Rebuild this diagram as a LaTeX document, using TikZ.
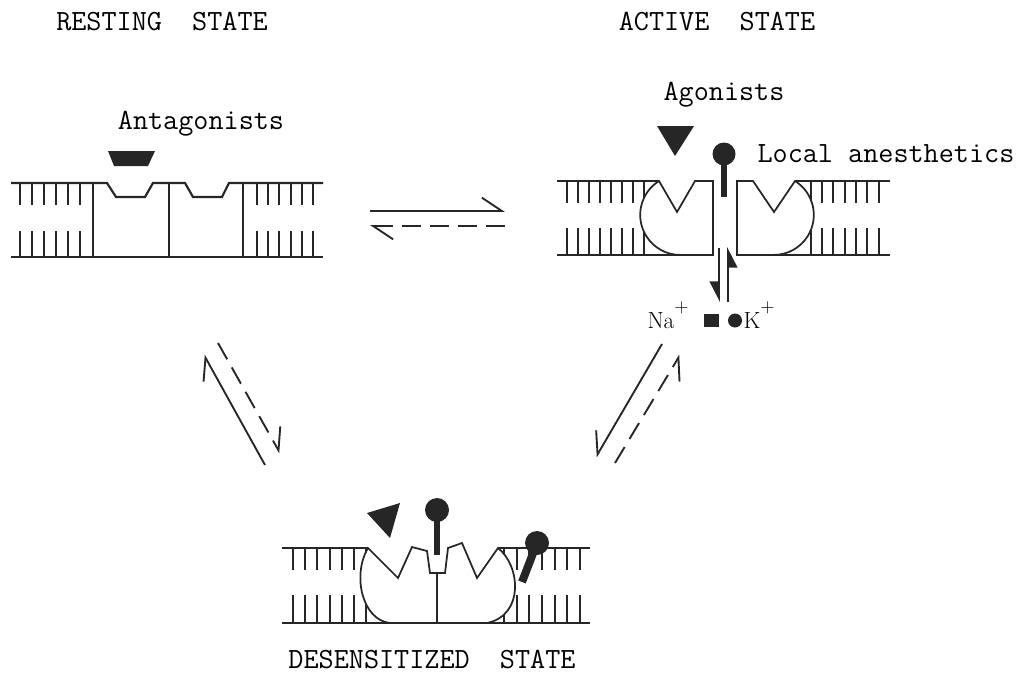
\documentclass[tikz,border=0pt]{standalone}
\usetikzlibrary{arrows.meta}

\begin{document}
\begin{tikzpicture}[x=0.75pt, y=-0.75pt, thick,
  membrane/.style={line width=1.6pt, draw=black!85},
  lipid/.style={line width=1.5pt, draw=black!85},
  subunit/.style={line width=1.3pt, draw=black!85, fill=white},
  ligand/.style={fill=black!85},
  stalk/.style={line width=5pt, draw=black!85},
  statetext/.style={font=\fontsize{22}{24}\selectfont\ttfamily, inner sep=0pt, anchor=base},
  ion/.style={font=\fontsize{17.5}{20}\selectfont\rmfamily, inner sep=0pt, anchor=base west},
  harpL/.style={line width=1.4pt, draw=black!85, -{Straight Barb[left, length=15pt, width=20pt]}},
  harpR/.style={line width=1.4pt, draw=black!85, -{Straight Barb[right, length=15pt, width=20pt]}},
  eqdash/.style={dash pattern=on 14pt off 7pt},
  flow/.style={line width=1.4pt, draw=black!85, -{Triangle[right, length=14pt, width=14pt]}}]
  \useasboundingbox (0,0) rectangle (1027,678);

  % 静息态
  \draw[membrane] (11,183) -- (107,183) -- (116,197) -- (145,197) -- (153,183) -- (185,183)
    -- (193,197) -- (222,197) -- (229,183) -- (323,183);
  \draw[membrane] (11,257) -- (323,257);
  \foreach \x in {20,32,44,56,68,80,257,268,279,291,302,313} {
    \draw[lipid] (\x,183) -- (\x,205);
    \draw[lipid] (\x,231) -- (\x,257);
  }
  \foreach \x in {93,169,243}
    \draw[membrane] (\x,183) -- (\x,257);
  \fill[ligand] (108,151) -- (155,151) -- (148,166) -- (114,166) -- cycle;

  % 激活态
  \draw[membrane] (557,181) -- (659,181) (795,181) -- (890,181);
  \draw[membrane] (557,255) -- (713,255) (737,255) -- (890,255);
  \foreach \x in {567,578,589,600,611,622,633,644,811,822,833,845,856,867,879} {
    \draw[lipid] (\x,181) -- (\x,203);
    \draw[lipid] (\x,228) -- (\x,255);
  }
  \draw[subunit] (659,181) arc[start angle=238, end angle=90, radius=40]
    -- (713,255) -- (713,181) -- (695,181) -- (677,212) -- cycle;
  \draw[subunit] (795,181) arc[start angle=-58, end angle=90, radius=40]
    -- (737,255) -- (737,181) -- (753,181) -- (774,212) -- cycle;
  \fill[ligand] (657,126) -- (694,126) -- (675,156) -- cycle;
  \draw[stalk] (724,154) -- (724,197);
  \fill[ligand] (724,154) circle[radius=11.5];

  % 离子通道
  \coordinate (ch1) at (719,248);
  \coordinate (ch2) at (719,302);
  \coordinate (ch3) at (728,302);
  \coordinate (ch4) at (728,247);
  \draw[flow] (ch1) -- (ch2);
  \draw[flow] (ch3) -- (ch4);
  \fill[ligand] (704,314) rectangle (719,327);
  \fill[ligand] (735,320.5) circle[radius=7];

  % 脱敏态
  \draw[membrane] (282,548) -- (368,548) (498,548) -- (590,548);
  \draw[membrane] (282,623) -- (590,623);
  \foreach \x in {293,305,317,330,342,354,366,504,517,529,542,555,567,580} {
    \draw[lipid] (\x,548) -- (\x,570);
    \draw[lipid] (\x,595) -- (\x,623);
  }
  \draw[subunit] (368,548) -- (398,578) -- (412,547) -- (427,551) -- (430,573) -- (437,573)
    -- (437,623) -- (390,623) .. controls (362,620) and (352,575) .. (368,548) -- cycle;
  \draw[subunit] (437,573) -- (445,573) -- (448,548) -- (462,543) -- (477,578) -- (498,548)
    .. controls (520,565) and (525,615) .. (487,623) -- (437,623) -- cycle;
  \fill[ligand] (367,513) -- (400,503) -- (390,538) -- cycle;
  \draw[stalk] (437,510) -- (437,555);
  \fill[ligand] (437,510) circle[radius=12];
  \draw[stalk, line width=6pt] (537,543) -- (522,582);
  \fill[ligand] (537,543) circle[radius=12];

  % 平衡箭头
  \coordinate (ra1) at (370,211);
  \coordinate (ra2) at (505,211);
  \coordinate (ar1) at (505,226);
  \coordinate (ar2) at (370,226);
  \coordinate (dr1) at (265,465);
  \coordinate (dr2) at (204,355);
  \coordinate (rd1) at (218,343);
  \coordinate (rd2) at (280,453);
  \coordinate (ad1) at (662,344);
  \coordinate (ad2) at (596,457);
  \coordinate (da1) at (615,463);
  \coordinate (da2) at (680,355);
  \draw[harpL] (ra1) -- (ra2);
  \draw[harpL, eqdash] (ar1) -- (ar2);
  \draw[harpL] (dr1) -- (dr2);
  \draw[harpL, eqdash] (rd1) -- (rd2);
  \draw[harpR] (ad1) -- (ad2);
  \draw[harpR, eqdash] (da1) -- (da2);

  \node[statetext] (rest) at (162,30) {RESTING\ \ STATE};
  \node[statetext] (act) at (717,30) {ACTIVE\ \ STATE};
  \node[statetext] (des) at (432,668) {DESENSITIZED\ \ STATE};
  \node[statetext] (antag) at (201,129) {Antagonists};
  \node[statetext] (ag) at (724,100) {Agonists};
  \node[statetext, anchor=base west] (anes) at (757,162) {Local anesthetics};
  \node[ion] (na) at (647,328) {Na\raisebox{12pt}{\fontsize{14}{14}\selectfont +}};
  \node[ion] (k) at (743,328) {K\raisebox{12pt}{\fontsize{14}{14}\selectfont +}};
\end{tikzpicture}
\end{document}
